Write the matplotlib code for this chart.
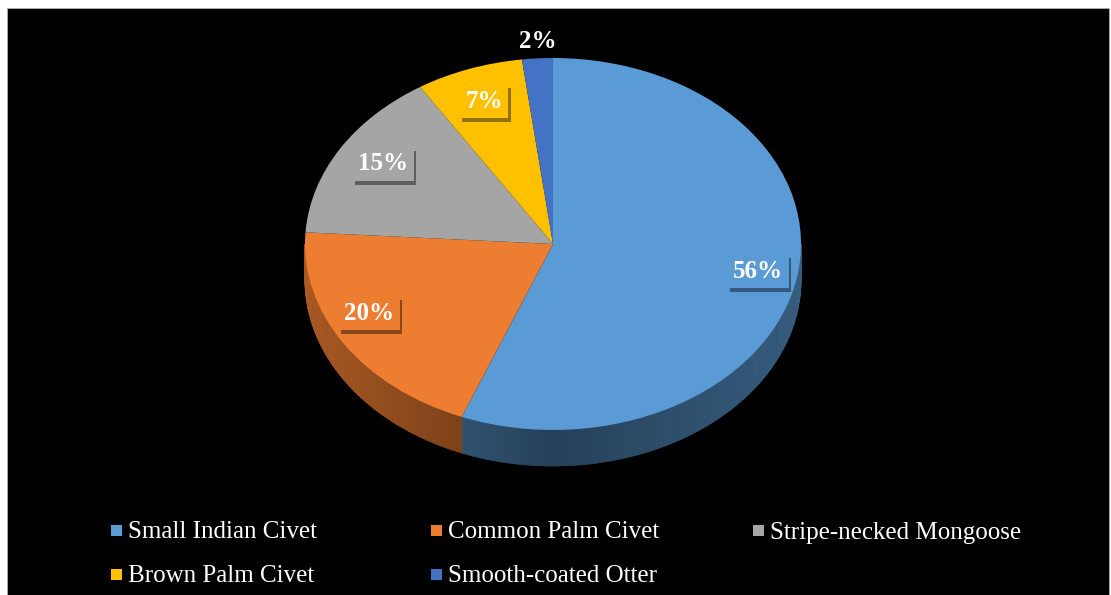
import numpy as np
import matplotlib
matplotlib.use('Agg')
import matplotlib.pyplot as plt
import matplotlib.patheffects as pe
from matplotlib.patches import Polygon, Rectangle
from matplotlib.transforms import Affine2D
from matplotlib.colors import to_rgb

species = ['Small Indian Civet', 'Common Palm Civet', 'Stripe-necked Mongoose',
           'Brown Palm Civet', 'Smooth-coated Otter']
shares = [56, 20, 15, 7, 2]
colors = ['#5B9BD5', '#ED7D31', '#A5A5A5', '#FFC000', '#4472C4']

W, H = 1111, 595
# pie geometry in pixels, y measured upward
cx, cy = 553, H - 244
rx, ry = 248, 186
depth = 36

# where the percentage boxes sit (pixels from the top-left corner)
label_xy = [(758, 271), (369, 313), (383, 164), (484, 101), (538, 41)]
boxed = [True, True, True, True, False]

# legend grid
leg_x = [116, 436, 758]
leg_y = [530, 574]

SERIF = 'Liberation Serif'

fig = plt.figure(figsize=(W / 100, H / 100), dpi=100, facecolor='white')
ax = fig.add_axes([0, 0, 1, 1])
ax.patch.set_visible(False)
ax.add_patch(Rectangle((7, 0), 1109 - 7, H - 8, facecolor='black',
                       edgecolor='#b0b0b0', lw=0.6, zorder=0))

wedges, _ = ax.pie(shares, colors=colors, startangle=90, counterclock=False,
                   wedgeprops=dict(linewidth=0))
top = Affine2D().scale(rx, ry).translate(cx, cy) + ax.transData
for w in wedges:
    w.set_transform(top)
    w.set_zorder(3)

# front wall of the disc, shaded strip by strip
for w, c in zip(wedges, colors):
    base = np.array(to_rgb(c))
    for k in (-360, 0, 360):
        lo, hi = max(w.theta1 + k, 180), min(w.theta2 + k, 360)
        if hi <= lo:
            continue
        edges = np.linspace(lo, hi, int(hi - lo) + 2)
        for a, b in zip(edges[:-1], edges[1:]):
            m = np.radians((a + b) / 2)
            f = 0.42 + 0.3 * max(0, -np.cos(m)) + 0.18 * max(0, np.cos(m))
            ts = np.radians([a, b, b, a])
            xs = cx + rx * np.cos(ts)
            ys = cy + ry * np.sin(ts) - np.array([0, 0, depth, depth])
            shade = np.clip(base * f, 0, 1)
            ax.add_patch(Polygon(np.c_[xs, ys], closed=True, fc=shade, ec=shade,
                                 lw=0.6, zorder=2))

# percentage labels
for (x, y), v, c, b in zip(label_xy, shares, colors, boxed):
    t = ax.text(x, H - y, f'{v}%', color='white', fontsize=18, fontweight='bold',
                family=SERIF, ha='center', va='center', zorder=5)
    if b:
        t.set_bbox(dict(boxstyle='square,pad=0.22', fc=c, ec='none'))
        dark = np.array(to_rgb(c)) * 0.4
        t.get_bbox_patch().set_path_effects(
            [pe.SimplePatchShadow(offset=(2, -3), shadow_rgbFace=dark, alpha=0.7),
             pe.Normal()])

# legend
for i, (name, c) in enumerate(zip(species, colors)):
    x, y = leg_x[i % 3], H - leg_y[i // 3]
    ax.add_patch(Rectangle((x - 5.5, y - 5.5), 11, 11, fc=c, ec='none', zorder=4))
    ax.text(x + 12, y, name, color='white', fontsize=18, family=SERIF,
            ha='left', va='center_baseline', zorder=4)

ax.set_aspect('auto')
ax.set_xlim(0, W)
ax.set_ylim(0, H)
ax.axis('off')

fig.savefig('out.png', dpi=100, facecolor='white')
